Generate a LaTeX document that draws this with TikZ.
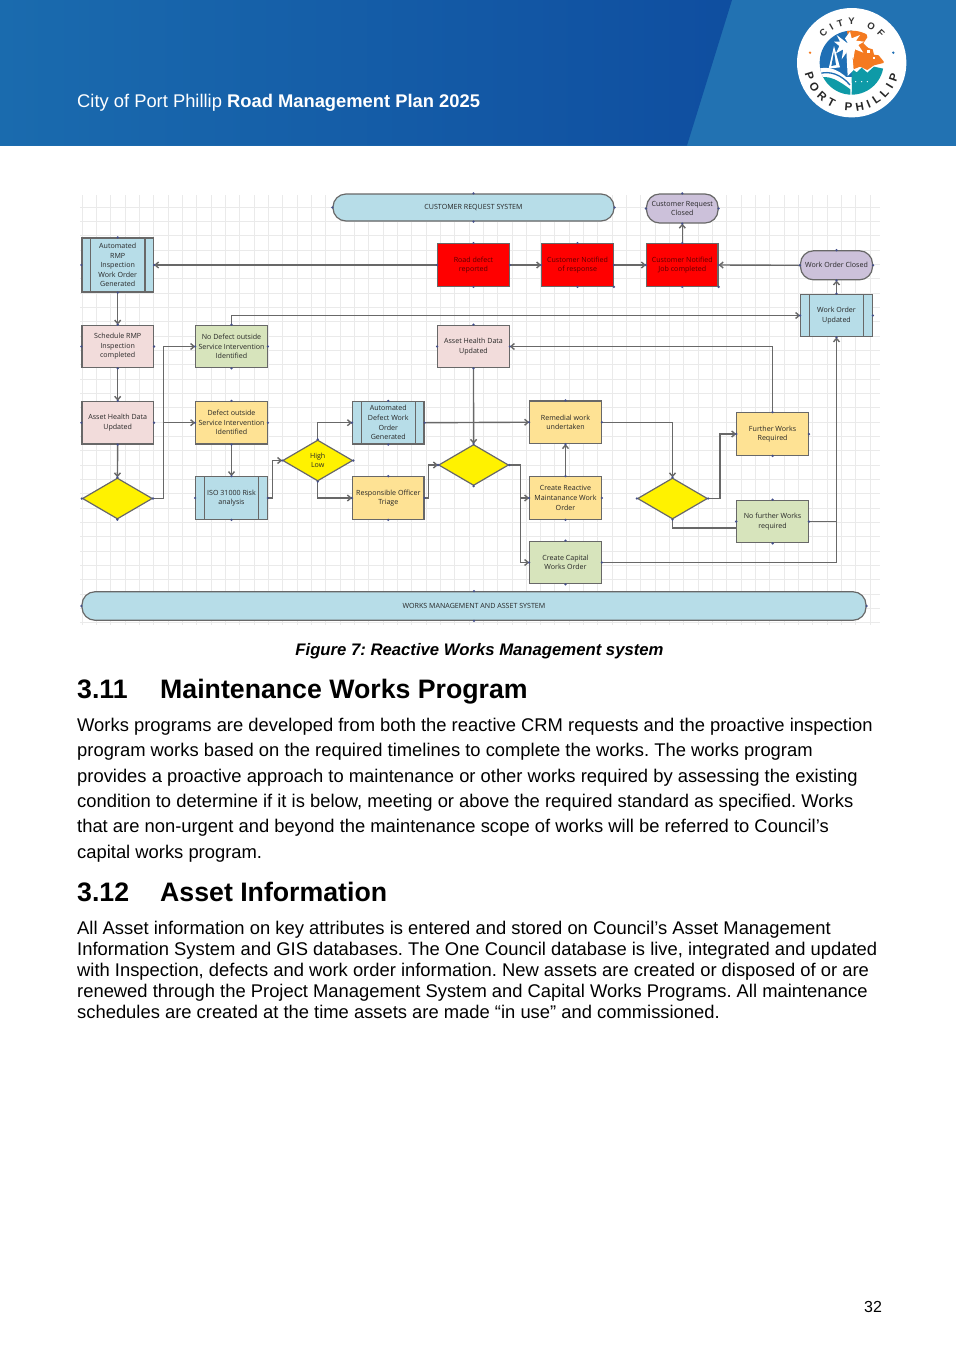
\documentclass[tikz,border=0pt]{standalone}
\usepackage{fontspec}
\setmainfont{Liberation Sans}
\newfontfamily\diagfont{Open Sans}
\frenchspacing
\usetikzlibrary{shapes.geometric,arrows.meta,calc,decorations.text}
\definecolor{hdrR}{HTML}{2272B2}
\definecolor{hdrA}{HTML}{1A6BAE}
\definecolor{hdrB}{HTML}{0F4EA0}
\definecolor{cPink}{HTML}{F2DCDB}
\definecolor{cGreen}{HTML}{D7E4BC}
\definecolor{cYel}{HTML}{FEE294}
\definecolor{cBlue}{HTML}{B7DDE8}
\definecolor{cLil}{HTML}{CCC1DA}
\definecolor{cEdge}{HTML}{686868}
\definecolor{cDot}{HTML}{45508A}
\definecolor{cGrid}{HTML}{EAEAEA}
\definecolor{lgBlue}{HTML}{1F6FB5}
\definecolor{lgOr}{HTML}{F47A20}
\definecolor{lgTeal}{HTML}{0E9AA7}
\tikzset{
  shapebox/.style={draw=cEdge,line width=1.2pt,inner sep=0pt,align=center,text=black!85,
    font=\diagfont\fontsize{7.1}{9.6}\selectfont,minimum width=71.5,minimum height=42.5},
  pinkbox/.style={shapebox,fill=cPink},
  greenbox/.style={shapebox,fill=cGreen},
  yelbox/.style={shapebox,fill=cYel},
  redbox/.style={shapebox,fill=red,text=red!35!black},
  predef/.style={shapebox,fill=cBlue,path picture={
    \draw[cEdge,line width=1.1pt] ([xshift=8.5]path picture bounding box.north west) -- ([xshift=8.5]path picture bounding box.south west);
    \draw[cEdge,line width=1.1pt] ([xshift=-8.5]path picture bounding box.north east) -- ([xshift=-8.5]path picture bounding box.south east);}},
  termbox/.style={shapebox,fill=cLil,rounded corners=13,minimum height=29},
  barbox/.style={shapebox,fill=cBlue,rounded corners=13,font=\diagfont\fontsize{7.1}{9}\selectfont},
  dec/.style={diamond,aspect=1.7,draw=cEdge,line width=1.2pt,fill=yellow,inner sep=0pt,align=center,
    minimum width=70,minimum height=41,text=black!85,font=\diagfont\fontsize{7.1}{9.6}\selectfont},
  edge/.style={draw=cEdge,line width=1.4pt},
  arr/.style={edge,-{Straight Barb[length=3.5pt,width=6pt]}},
  portdot/.style={fill=cDot,draw=none},
  bodytxt/.style={anchor=base west,inner sep=0pt,font=\fontsize{18.38}{20}\selectfont},
  headtxt/.style={anchor=base west,inner sep=0pt,font=\bfseries\fontsize{26.7}{30}\selectfont},
}
\begin{document}
\begin{tikzpicture}[x=1pt,y=-1pt]
\useasboundingbox (0,0) rectangle (956,1369);
\fill[white] (0,0) rectangle (956,1369);
% header
\fill[hdrR] (0,0) rectangle (956,145.5);
\begin{scope}
\clip (0,0) -- (732,0) -- (687,145.5) -- (0,145.5) -- cycle;
\shade[left color=hdrA,right color=hdrB] (0,0) rectangle (732,145.5);
\end{scope}
\node[anchor=base west,inner sep=0pt,text=white,font=\fontsize{18.35}{20}\selectfont] (hdr) at (77,107) {City of Port Phillip \textbf{Road Management Plan 2025}};
% logo
\fill[white] (851.7,62.7) circle[radius=54.7];
\begin{scope}[shift={(810,20)},x=0.3333pt,y=-0.3333pt]
\begin{scope}
\clip (125,128) circle[radius=96];
\fill[lgBlue] (20,20) rectangle (125,170);
\fill[white] (72,78) -- (90,142) -- (56,146) -- cycle;
\fill[lgBlue] (72,95) -- (78,135) -- (64,138) -- cycle;
\fill[lgOr] (108,20) -- (165,20) -- (172,52) -- (160,70) -- (175,84) -- (188,88) -- (192,104) -- (206,106) -- (224,128) -- (192,136) -- (172,150) -- (150,140) -- (125,150) -- (125,100) -- cycle;
\fill[white] (172,90) rectangle (180,98);
\fill[white] (188,110) rectangle (196,118);
\fill[lgTeal] (125,146) -- (140,157) -- (155,143) -- (172,158) -- (192,140) -- (225,147) -- (225,240) -- (125,240) -- cycle;
\fill[white] (20,148) .. controls (55,135) and (95,150) .. (125,190) -- (125,215) -- (20,180) -- cycle;
\draw[lgBlue,line width=1.3pt] (25,162) .. controls (60,150) and (95,165) .. (120,195);
\fill[lgTeal] (20,176) .. controls (55,160) and (90,185) .. (121,208) -- (121,240) -- (20,240) -- cycle;
\fill[white] (108,72) -- (124,72) -- (131,150) -- (113,168) -- cycle;
\fill[white] (115,72) -- (80,45) -- (90,65) -- (72,65) -- (88,78) -- (78,100) -- (100,88) -- (95,118) -- (115,90) -- (130,118) -- (135,88) -- (160,98) -- (145,75) -- (162,65) -- (138,62) -- (150,45) -- (125,55) -- (120,35) -- (105,55) -- cycle;
\end{scope}
\fill[white] (137,185) circle[radius=2.2];
\fill[white] (155,185) circle[radius=2.2];
\fill[white] (172,185) circle[radius=2.2];
\fill[lgOr] (0,98) circle[radius=4];
\fill[lgBlue] (250,98) circle[radius=4];
\end{scope}
\begin{scope}[shift={(851.7,62.7)}]
\path[decorate,decoration={text along path,text align={fit to path},
  text={|\bfseries\fontsize{9.5}{11}\selectfont\color{black!80}|CITY OF}}]
  (-28.5,-25) arc[start angle=139,end angle=41,radius=38,y radius=-38];
\path[decorate,decoration={text along path,text align={fit to path},
  text={|\bfseries\fontsize{11.5}{13}\selectfont\color{black!85}|PORT PHILLIP}}]
  (-47,11) arc[start angle=193,end angle=345,radius=48.3,y radius=-48.3];
\end{scope}
% grid
\foreach \k in {0,...,55} {\draw[cGrid,line width=0.8pt] ({82+14.33*\k},195) -- ({82+14.33*\k},625);}
\foreach \k in {1,...,30} {\draw[cGrid,line width=0.8pt] (80,{192.7+14.33*\k}) -- (880,{192.7+14.33*\k});}
% nodes
\node[barbox,minimum width=281,minimum height=27] (crs) at (473.5,207.5) {CUSTOMER REQUEST SYSTEM};
\node[termbox,minimum width=71.5] (crc) at (682.3,208.5) {Customer Request\\Closed};
\node[predef,minimum height=54] (rmp) at (117.7,265) {Automated\\RMP\\Inspection\\Work Order\\Generated};
\node[redbox] (road) at (473.5,265) {Road defect\\reported};
\node[redbox] (resp) at (577.5,265) {Customer Notified\\of response};
\node[redbox] (job) at (682.3,265) {Customer Notified\\Job completed};
\node[termbox,minimum width=72] (woc) at (836.5,265.3) {Work Order Closed};
\node[predef] (wou) at (836.5,315.5) {Work Order\\Updated};
\node[pinkbox] (sch) at (117.7,346.5) {Schedule RMP\\Inspection\\completed};
\node[greenbox] (nod) at (231.5,346.5) {No Defect outside\\Service Intervention\\Identified};
\node[pinkbox] (aht) at (473.5,346.5) {Asset Health Data\\Updated};
\node[pinkbox] (ahl) at (117.7,422.7) {Asset Health Data\\Updated};
\node[yelbox] (def) at (231.5,422.7) {Defect outside\\Service Intervention\\Identified};
\node[predef] (aut) at (388.3,422.7) {Automated\\Defect Work\\Order\\Generated};
\node[yelbox] (rem) at (565.5,422.2) {Remedial work\\undertaken};
\node[yelbox] (fur) at (772.6,434) {Further Works\\Required};
\node[dec] (dl) at (117.4,498.5) {};
\node[predef] (iso) at (231.5,498) {ISO 31000 Risk\\analysis};
\node[dec] (hl) at (317.7,460.5) {High\\Low};
\node[yelbox] (tri) at (388.3,498) {Responsible Officer\\Triage};
\node[dec] (dm) at (473.6,465) {};
\node[yelbox] (cre) at (565.5,498) {Create Reactive\\Maintanance Work\\Order};
\node[dec] (dr) at (672.5,498.5) {};
\node[greenbox] (nfw) at (772.6,521.5) {No further Works\\required};
\node[greenbox] (cap) at (565.5,562.5) {Create Capital\\Works Order};
\node[barbox,minimum width=784,minimum height=28.5] (wms) at (474,606) {WORKS MANAGEMENT AND ASSET SYSTEM};
% connectors
\draw[arr] (road.west) -- (rmp.east);
\draw[arr] (rmp.south) -- (sch.north);
\draw[arr] (sch.south) -- (ahl.north);
\draw[arr] (ahl.south) -- (dl.north);
\draw[arr] (dl.east) -- ++(10.7,0) |- (nod.west);
\draw[arr] (dl.east) -- ++(10.7,0) |- (def.west);
\draw[arr] (def.south) -- (iso.north);
\draw[arr] (iso.east) -- ++(4.7,0) |- (hl.west);
\draw[arr] (hl.north) |- (aut.west);
\draw[arr] (hl.south) |- (tri.west);
\draw[arr] (aut.east) -- (rem.west);
\draw[arr] (aht.south) -- (dm.north);
\draw[arr] (tri.east) -- ++(4,0) |- (dm.west);
\draw[arr] (dm.east) -- ++(11,0) |- (cre.west);
\draw[arr] (dm.east) -- ++(11,0) |- (cap.west);
\draw[arr] (cre.north) -- (rem.south);
\draw[arr] (rem.east) -| (dr.north);
\draw[arr] (dr.east) -- ++(12,0) |- (fur.west);
\draw[edge] ([yshift=-6.5]nfw.west) -| (dr.south);
\draw[edge] (nfw.east) -- (wou.south |- nfw.east);
\draw[arr] (cap.east) -| (wou.south);
\draw[arr] (fur.north) |- (aht.east);
\draw[arr] (nod.north) |- (wou.west);
\draw[arr] (wou.north) -- (woc.south);
\draw[arr] (woc.west) -- (job.east);
\draw[arr] (road.east) -- (resp.west);
\draw[arr] (resp.east) -- (job.west);
\draw[arr] (job.north) -- (crc.south);
% port dots
\foreach \n in {crs,crc,rmp,road,resp,job,woc,wou,sch,nod,aht,ahl,def,aut,rem,fur,dl,iso,hl,tri,dm,cre,dr,nfw,cap,wms}
  \foreach \a in {north,south,east,west}
    \fill[portdot] (\n.\a) circle[radius=1.3];
\fill[portdot] (resp.south east) circle[radius=1.3];
\fill[portdot] (job.south east) circle[radius=1.3];
% text
\node[anchor=base,inner sep=0pt,font=\bfseries\itshape\fontsize{16.7}{18}\selectfont] (cap7) at (479.5,655.5) {Figure 7: Reactive Works Management system};
\node[headtxt] (h1n) at (77,698.5) {3.11};
\node[headtxt] (h1) at (160,698.5) {Maintenance Works Program};
\node[bodytxt] (p1) at (77,731) {Works programs are developed from both the reactive CRM requests and the proactive inspection};
\node[bodytxt] (p2) at (77,756.5) {program works based on the required timelines to complete the works. The works program};
\node[bodytxt] (p3) at (77,782) {provides a proactive approach to maintenance or other works required by assessing the existing};
\node[bodytxt] (p4) at (77,807) {condition to determine if it is below, meeting or above the required standard as specified. Works};
\node[bodytxt] (p5) at (77,832.5) {that are non-urgent and beyond the maintenance scope of works will be referred to Council’s};
\node[bodytxt] (p6) at (77,858) {capital works program.};
\node[headtxt] (h2n) at (77,901.5) {3.12};
\node[headtxt] (h2) at (160,901.5) {Asset Information};
\node[bodytxt] (q1) at (77,934) {All Asset information on key attributes is entered and stored on Council’s Asset Management};
\node[bodytxt] (q2) at (77,955) {Information System and GIS databases. The One Council database is live, integrated and updated};
\node[bodytxt] (q3) at (77,976) {with Inspection, defects and work order information. New assets are created or disposed of or are};
\node[bodytxt] (q4) at (77,997) {renewed through the Project Management System and Capital Works Programs. All maintenance};
\node[bodytxt] (q5) at (77,1018) {schedules are created at the time assets are made “in use” and commissioned.};
\node[anchor=base,inner sep=0pt,font=\fontsize{16}{18}\selectfont] (pg) at (873,1312) {32};
\end{tikzpicture}
\end{document}
